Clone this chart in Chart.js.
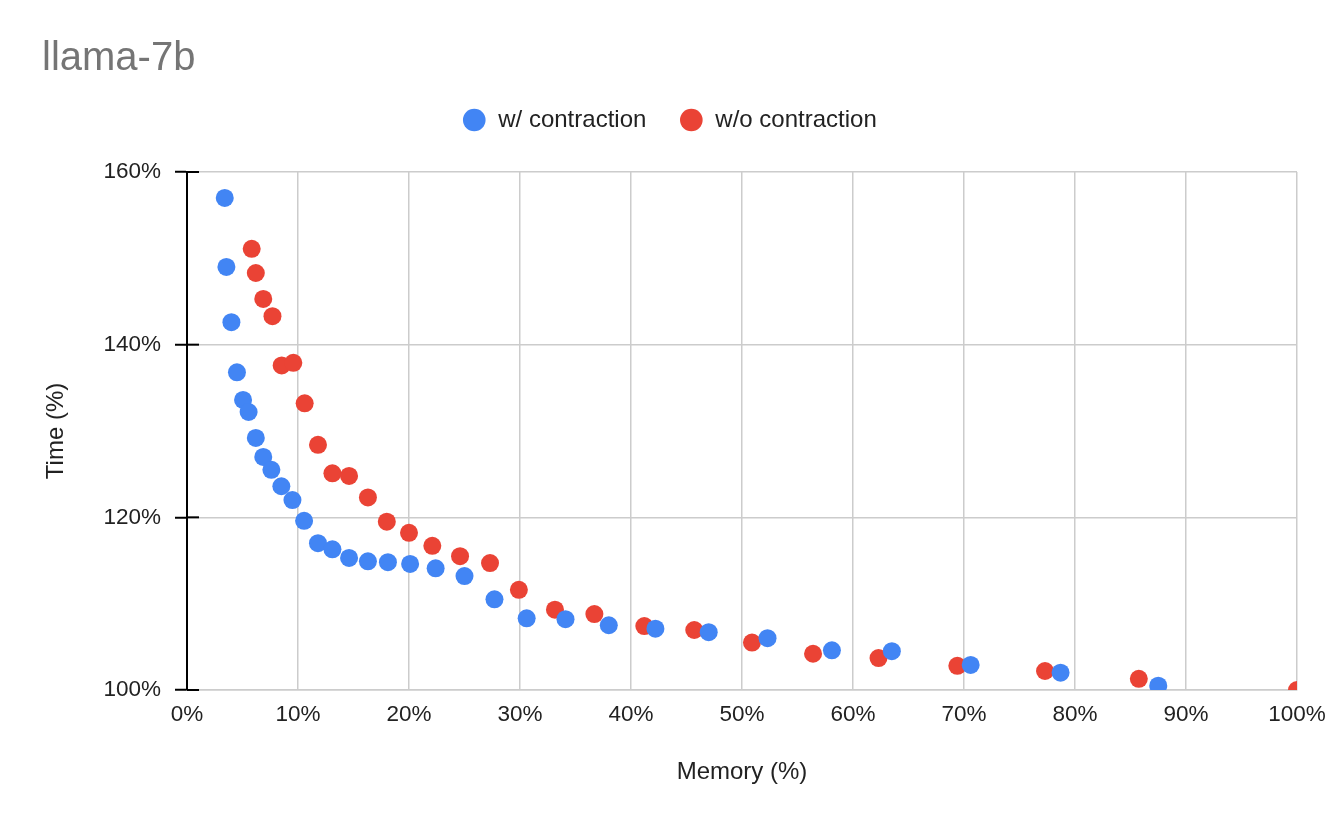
<!DOCTYPE html>
<html>
<head>
<meta charset="utf-8">
<script src="https://cdn.jsdelivr.net/npm/chart.js@4.4.1/dist/chart.umd.min.js"></script>
<style>
  html, body { margin: 0; padding: 0; background: #fff; }
  #wrap { width: 1338px; height: 828px; }
</style>
</head>
<body>
<div id="wrap"><canvas id="chart" width="1338" height="828"></canvas></div>
<script>
// data (Memory %, Time %)
const withMem = [3.4, 3.55, 4.0, 4.5, 5.05, 5.55, 6.2, 6.87, 7.6, 8.5, 9.5, 10.55, 11.8, 13.1, 14.6, 16.3,
  18.1, 20.1, 22.4, 25.0, 27.7, 30.6, 34.1, 38.0, 42.2, 47.0, 52.3, 58.1, 63.5, 70.6, 78.7, 87.5];
const withTime = [157.0, 149.0, 142.6, 136.8, 133.6, 132.2, 129.2, 127.0, 125.5, 123.6, 122.0, 119.6, 117.0,
  116.3, 115.3, 114.9, 114.8, 114.6, 114.1, 113.2, 110.5, 108.3, 108.2, 107.5, 107.1, 106.7, 106.0, 104.6,
  104.5, 102.9, 102.0, 100.5];

const withoutMem = [5.83, 6.2, 6.87, 7.7, 8.53, 9.58, 10.6, 11.8, 13.1, 14.6, 16.3, 18.0, 20.0, 22.1, 24.6,
  27.3, 29.9, 33.15, 36.7, 41.2, 45.7, 50.9, 56.4, 62.3, 69.4, 77.3, 85.75, 100];
const withoutTime = [151.1, 148.3, 145.3, 143.3, 137.6, 137.9, 133.2, 128.4, 125.1, 124.8, 122.3, 119.5, 118.2,
  116.7, 115.5, 114.7, 111.6, 109.3, 108.8, 107.4, 106.95, 105.5, 104.2, 103.7, 102.8, 102.2, 101.3, 100];

const seriesNames = ['w/ contraction', 'w/o contraction'];
const xTicks = [0, 10, 20, 30, 40, 50, 60, 70, 80, 90, 100];
const yTicks = [100, 120, 140, 160];

const FONT = "'Liberation Sans', Arial, sans-serif";

function toPoints(xs, ys) {
  return xs.map((x, i) => ({ x: x, y: ys[i] }));
}

// extra space under the legend
const legendGap = {
  id: 'legendGap',
  beforeInit(chart) {
    const origFit = chart.legend.fit;
    chart.legend.fit = function () {
      origFit.bind(chart.legend)();
      this.height += 30;
    };
  }
};

// small black ticks on the inner side of the y axis
const innerTicks = {
  id: 'innerTicks',
  afterDraw(chart) {
    const ctx = chart.ctx;
    const y = chart.scales.y;
    const left = chart.chartArea.left;
    ctx.save();
    ctx.strokeStyle = '#000';
    ctx.lineWidth = 2;
    yTicks.forEach(v => {
      const py = y.getPixelForValue(v);
      ctx.beginPath();
      ctx.moveTo(left, py);
      ctx.lineTo(left + 12, py);
      ctx.stroke();
    });
    ctx.restore();
  }
};

const ctx = document.getElementById('chart').getContext('2d');
const chart = new Chart(ctx, {
  type: 'scatter',
  data: {
    datasets: [{
      label: seriesNames[0],
      data: toPoints(withMem, withTime),
      backgroundColor: '#4285F4',
      borderWidth: 0,
      pointRadius: 9,
      pointHoverRadius: 9,
      clip: 0
    }, {
      label: seriesNames[1],
      data: toPoints(withoutMem, withoutTime),
      backgroundColor: '#EA4335',
      borderWidth: 0,
      pointRadius: 9,
      pointHoverRadius: 9,
      clip: 0
    }]
  },
  options: {
    responsive: false,
    animation: false,
    layout: { padding: { left: 42, right: 41, top: 0, bottom: 41 } },
    plugins: {
      title: {
        display: true,
        text: 'llama-7b',
        align: 'start',
        color: '#757575',
        font: { family: FONT, size: 40, weight: 'normal', lineHeight: 0.8 },
        padding: { top: 43, bottom: 0 }
      },
      legend: {
        position: 'top',
        labels: {
          usePointStyle: true,
          pointStyle: 'circle',
          boxHeight: 16,
          boxWidth: 24,
          padding: 33,
          color: '#222',
          font: { family: FONT, size: 24 }
        }
      },
      tooltip: { enabled: false }
    },
    scales: {
      x: {
        type: 'linear',
        min: 0,
        max: 100,
        afterBuildTicks: s => { s.ticks = xTicks.map(v => ({ value: v })); },
        afterFit: s => { s.height = 97; },
        grid: { color: '#cccccc', lineWidth: 1.5, drawTicks: false },
        border: { color: '#cccccc', width: 1.5 },
        ticks: {
          color: '#222',
          padding: 11.5,
          font: { family: FONT, size: 22.5 },
          callback: v => v + '%'
        },
        title: {
          display: true,
          text: 'Memory (%)',
          color: '#222',
          font: { family: FONT, size: 24 },
          padding: { top: 0, bottom: 0 }
        }
      },
      y: {
        type: 'linear',
        min: 100,
        max: 160,
        afterBuildTicks: s => { s.ticks = yTicks.map(v => ({ value: v })); },
        afterFit: s => { s.width = 145; },
        grid: { color: '#cccccc', lineWidth: 1.5, tickColor: '#000', tickLength: 12, tickWidth: 2 },
        border: { color: '#000', width: 2, z: 1 },
        ticks: {
          color: '#222',
          padding: 14,
          font: { family: FONT, size: 22.5 },
          callback: v => v + '%'
        },
        title: {
          display: true,
          text: 'Time (%)',
          color: '#222',
          font: { family: FONT, size: 24 },
          padding: { top: 0, bottom: 0 }
        }
      }
    }
  },
  plugins: [legendGap, innerTicks]
});
</script>
</body>
</html>
